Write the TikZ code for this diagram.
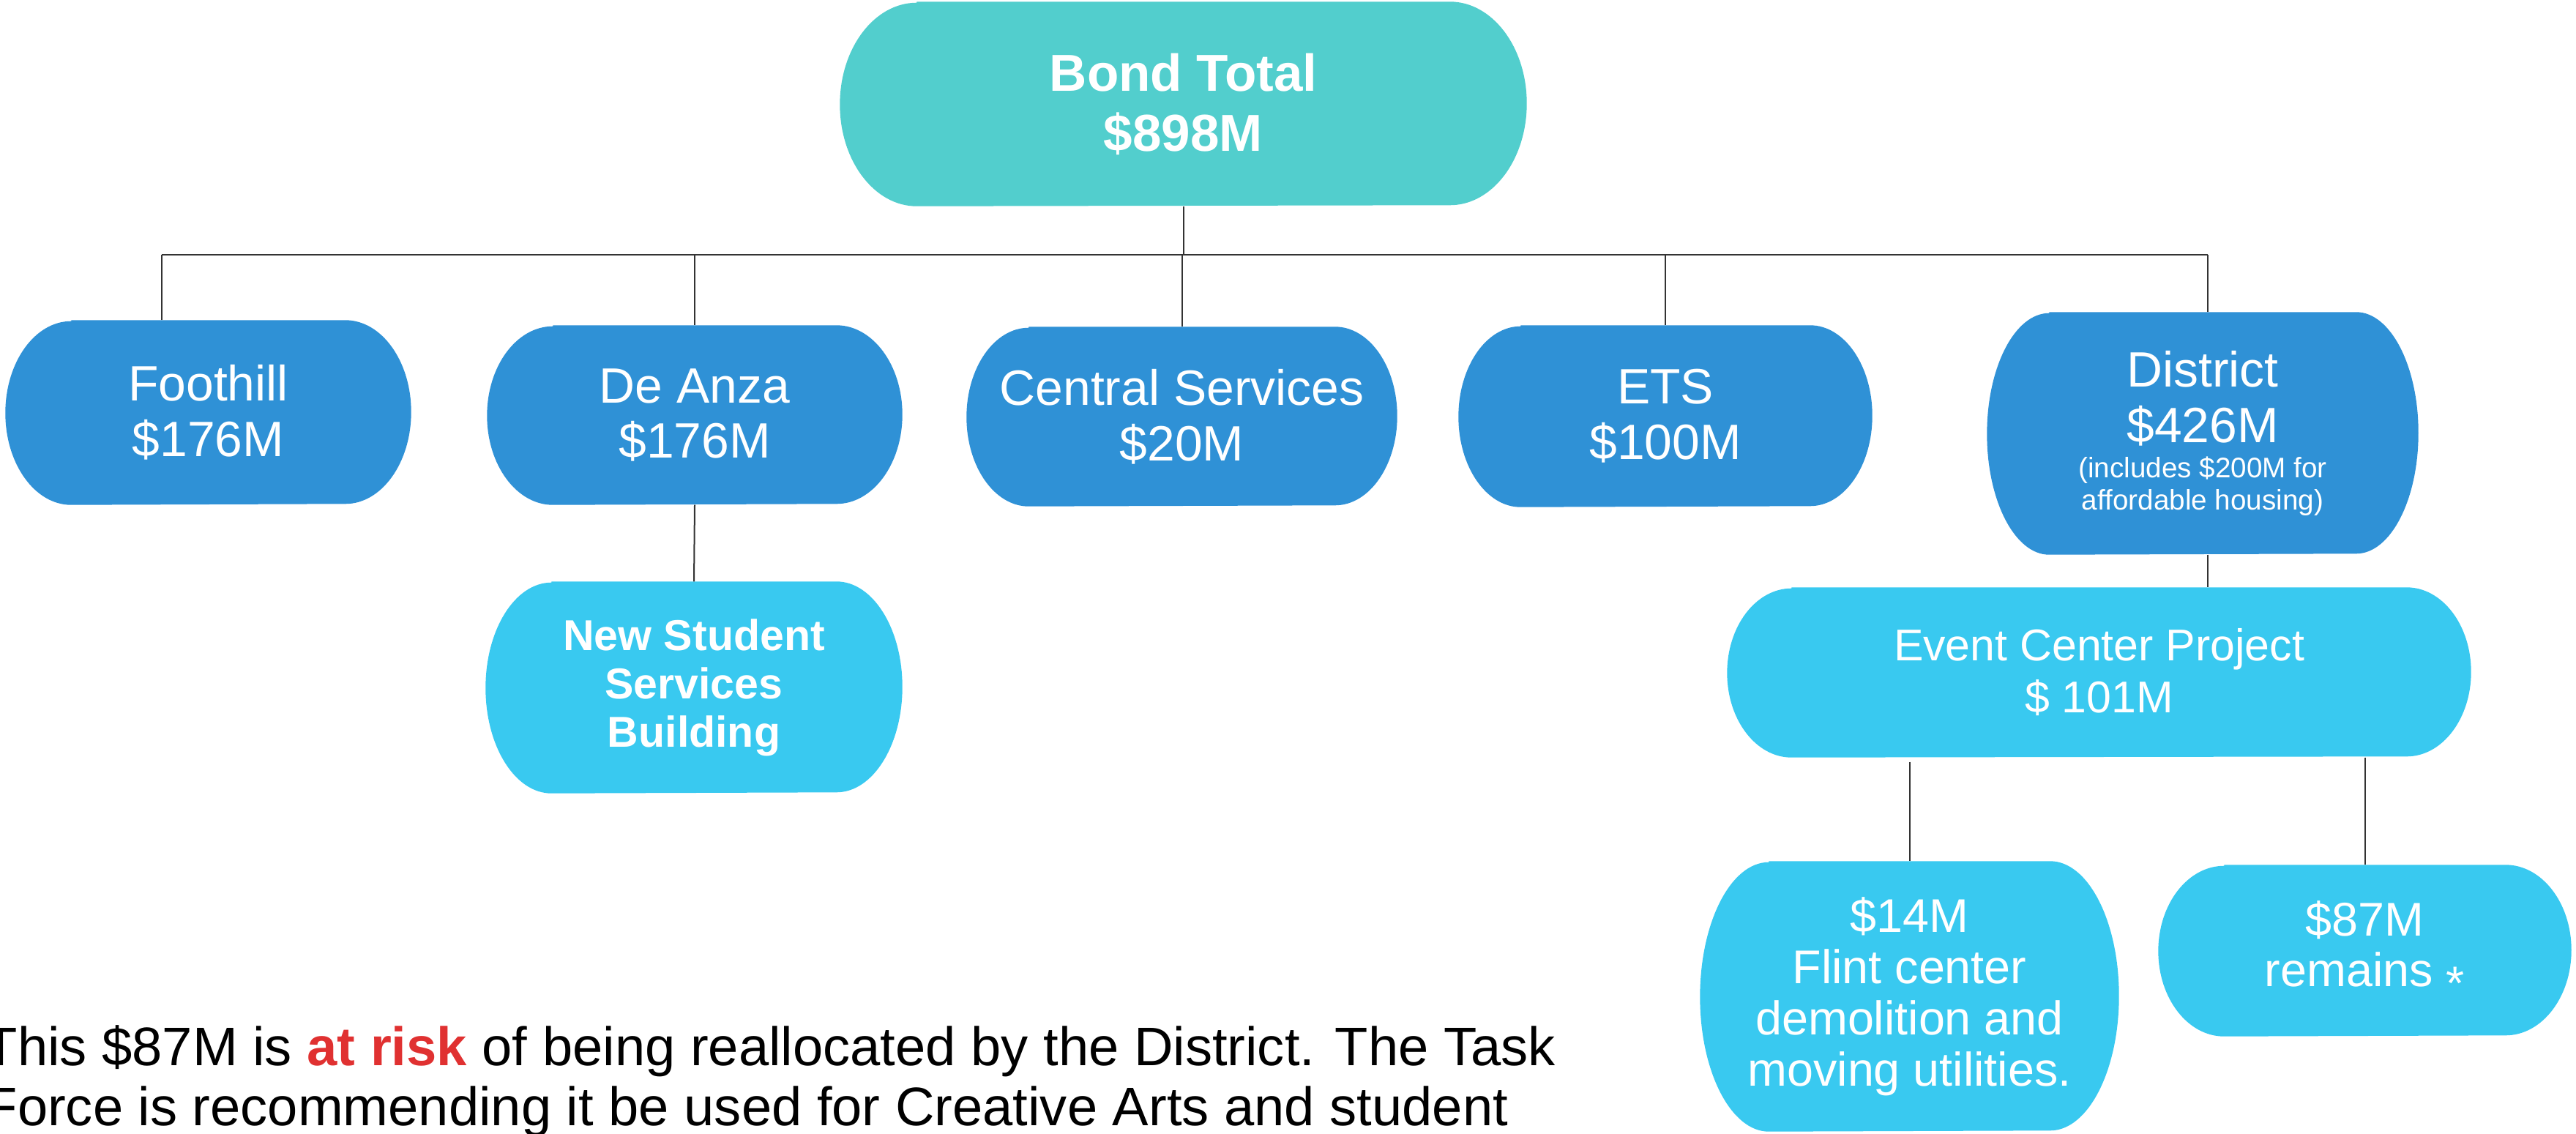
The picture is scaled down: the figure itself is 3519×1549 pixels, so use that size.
\documentclass[tikz,border=0pt]{standalone}
\usepackage{fontspec}
\setmainfont{Liberation Sans}
\usetikzlibrary{backgrounds}
\definecolor{tealbox}{HTML}{52CECD}
\definecolor{bluebox}{HTML}{2F91D6}
\definecolor{lightbox}{HTML}{39C9F0}
\definecolor{riskred}{HTML}{E03131}
\definecolor{linec}{HTML}{333333}
\newcommand{\barrel}[4]{%
  \fill[#2] ([xshift=#3]#1.north west) -- ([xshift=-#3]#1.north east)
    arc[start angle=90,end angle=-90,x radius=#3,y radius=#4]
    -- ([xshift=#3]#1.south west)
    arc[start angle=270,end angle=90,x radius=#3,y radius=#4] -- cycle;}
\tikzset{
  box/.style={rectangle, inner sep=0pt, text=white, align=center},
  conn/.style={draw=linec, line width=0.2mm},
  bigtxt/.style={font=\fontsize{19.3}{21.6}\selectfont},
  notetxt/.style={anchor=base west, inner sep=0pt, text=black, font=\fontsize{21.1}{23.3}\selectfont},
}
\begin{document}
\begin{tikzpicture}[x=0.1mm,y=0.1mm]
\useasboundingbox (0,0) rectangle (3519,-1549);
% nodes
\node[box, minimum width=93.7mm, minimum height=27.8mm, font=\bfseries\fontsize{20.2}{23.3}\selectfont] (bond) at (1616.5,-142) {Bond Total\\\$898M};
\node[box, bigtxt, minimum width=55.3mm, minimum height=25.1mm] (foot) at (284.5,-563.5) {Foothill\\\$176M};
\node[box, bigtxt, minimum width=56.6mm, minimum height=24.4mm] (deanza) at (949,-567) {De Anza\\\$176M};
\node[box, bigtxt, minimum width=58.7mm, minimum height=24.4mm] (central) at (1614.5,-569) {Central Services\\\$20M};
\node[box, bigtxt, minimum width=56.4mm, minimum height=24.7mm] (ets) at (2275,-568.5) {ETS\\\$100M};
\node[box, bigtxt, minimum width=58.8mm, minimum height=33.0mm] (district) at (3009,-592) {District\\\$426M\\[-8pt]{\fontsize{11}{12.5}\selectfont(includes \$200M for}\\[-9pt]{\fontsize{11}{12.5}\selectfont affordable housing)}};
\node[box, minimum width=56.8mm, minimum height=28.8mm, font=\bfseries\fontsize{16.8}{18.8}\selectfont] (nssb) at (948,-939) {New Student\\Services\\Building};
\node[box, minimum width=101.5mm, minimum height=23.1mm, font=\fontsize{17.3}{20.2}\selectfont] (event) at (2867.5,-918.5) {Event Center Project\\\$ 101M};
\node[box, minimum width=57.1mm, minimum height=36.8mm, font=\fontsize{18.4}{19.9}\selectfont] (flint) at (2608.5,-1361) {\$14M\\Flint center\\demolition and\\moving utilities.};
\node[box, minimum width=56.3mm, minimum height=23.3mm, font=\fontsize{18.4}{19.6}\selectfont] (remain) at (3230.5,-1298.5) {\$87M\\remains \raisebox{-0.28em}{*}};
\node[notetxt] (note1) at (-22,-1455) {This \$87M is \textcolor{riskred}{\bfseries at risk} of being reallocated by the District. The Task};
\node[notetxt] (note2) at (-22,-1537) {Force is recommending it be used for Creative Arts and student};
% shapes
\begin{scope}[on background layer]
\barrel{bond}{tealbox}{10.5mm}{13.9mm}
\barrel{foot}{bluebox}{9mm}{12.55mm}
\barrel{deanza}{bluebox}{9mm}{12.2mm}
\barrel{central}{bluebox}{8.5mm}{12.2mm}
\barrel{ets}{bluebox}{8.5mm}{12.35mm}
\barrel{district}{bluebox}{8.5mm}{16.5mm}
\barrel{nssb}{lightbox}{9mm}{14.4mm}
\barrel{event}{lightbox}{8.8mm}{11.55mm}
\barrel{flint}{lightbox}{9.4mm}{18.4mm}
\barrel{remain}{lightbox}{9mm}{11.65mm}
\end{scope}
% connectors
\coordinate (busL) at (221,-348);
\coordinate (busR) at (3016,-348);
\draw[conn] (busL) -- (busR);
\draw[conn] (bond.south) -- (bond.south |- busL);
\draw[conn] (foot.north -| busL) -- (busL);
\draw[conn] (deanza.north) -- (deanza.north |- busL);
\draw[conn] (central.north) -- (central.north |- busL);
\draw[conn] (ets.north) -- (ets.north |- busL);
\draw[conn] (district.north -| busR) -- (busR);
\draw[conn] (deanza.south) -- (nssb.north);
\draw[conn] (district.south -| busR) -- (event.north -| busR);
\draw[conn] ([yshift=-0.6mm]event.south -| flint.north) -- (flint.north);
\draw[conn] (event.south -| remain.north) -- (remain.north);
\end{tikzpicture}
\end{document}
